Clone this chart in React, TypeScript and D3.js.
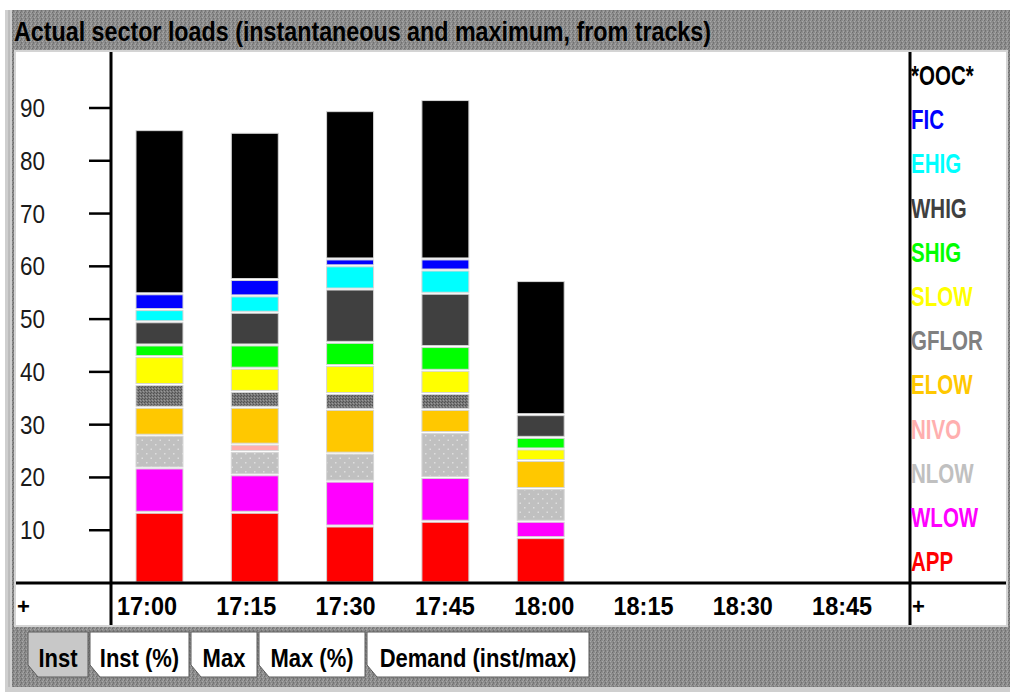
import React from "react";
import * as d3 from "d3";

const TITLE = "Actual sector loads (instantaneous and maximum, from tracks)";
const TIMES = ["17:00", "17:15", "17:30", "17:45", "18:00", "18:15", "18:30", "18:45"];
const Y_TICKS = [10, 20, 30, 40, 50, 60, 70, 80, 90];
const TABS = ["Inst", "Inst (%)", "Max", "Max (%)", "Demand (inst/max)"];

// series bottom -> top
const SERIES = ["APP", "WLOW", "NLOW", "NIVO", "ELOW", "GFLOR", "SLOW", "SHIG", "WHIG", "EHIG", "FIC", "*OOC*"];
const APP = [13.4, 13.4, 10.8, 11.7, 8.6];
const WLOW = [8.4, 7.1, 8.5, 8.3, 3.1];
const NLOW = [6.2, 4.4, 5.3, 8.5, 6.2];
const NIVO = [0, 1.4, 0, 0, 0];
const ELOW = [5.3, 7.0, 8.3, 4.4, 5.3];
const GFLOR = [4.3, 3.0, 3.0, 3.0, 0];
const SLOW = [5.3, 4.4, 5.3, 4.4, 2.2];
const SHIG = [2.2, 4.4, 4.4, 4.5, 2.2];
const WHIG = [4.4, 6.2, 10.1, 10.1, 4.3];
const EHIG = [2.3, 3.1, 4.4, 4.4, 0];
const FIC = [3.0, 3.1, 1.3, 2.1, 0];
const OOC = [31.1, 27.9, 28.1, 30.2, 25.4];
const VALUES = [APP, WLOW, NLOW, NIVO, ELOW, GFLOR, SLOW, SHIG, WHIG, EHIG, FIC, OOC];

const FILL: Record<string, string> = {
  APP: "#ff0000",
  WLOW: "#ff00ff",
  NLOW: "url(#nlowPat)",
  NIVO: "#ffafaf",
  ELOW: "#ffc800",
  GFLOR: "url(#gflorPat)",
  SLOW: "#ffff00",
  SHIG: "#00ff00",
  WHIG: "#404040",
  EHIG: "#00ffff",
  FIC: "#0000ff",
  "*OOC*": "#000000",
};
const TEXTCOL: Record<string, string> = {
  APP: "#ff0000",
  WLOW: "#ff00ff",
  NLOW: "#c0c0c0",
  NIVO: "#ffafaf",
  ELOW: "#ffc800",
  GFLOR: "#808080",
  SLOW: "#ffff00",
  SHIG: "#00ff00",
  WHIG: "#404040",
  EHIG: "#00ffff",
  FIC: "#0000ff",
  "*OOC*": "#000000",
};

const FONT = "'Liberation Sans', Arial, sans-serif";

function sx(x: number, k: number) {
  return `translate(${x} 0) scale(${k} 1) translate(${-x} 0)`;
}

export default function App() {
  const W = 1010, H = 692;
  const plotL = 111, plotR = 910, plotT = 52, axisY = 583, panelB = 625;

  const y = d3.scaleLinear().domain([0, 90]).range([axisY, 108]);
  const barStep = 95.3, barPad = 0.507;
  const xBar = d3
    .scaleBand<string>()
    .domain(TIMES)
    .range([136, 136 + barStep * (TIMES.length - barPad)])
    .paddingInner(barPad)
    .paddingOuter(0)
    .align(0);
  const xLab = d3.scaleBand<string>().domain(TIMES).range([plotL, plotL + 99.3 * TIMES.length]);

  const rows = APP.map((_, i) => {
    const r: any = { t: TIMES[i] };
    SERIES.forEach((s, k) => (r[s] = VALUES[k][i]));
    return r;
  });
  const stacked = d3.stack<any>().keys(SERIES)(rows);

  const legendTop = 75, legendStep = 44.2;
  const legendOrder = [...SERIES].reverse();

  const tabX = [28, 90, 191, 259, 367, 591];

  return (
    <svg width={W} height={H} style={{ position: "absolute", left: 0, top: 0, display: "block" }} fontFamily={FONT}>
      <defs>
        <pattern id="dither" width="4" height="4" patternUnits="userSpaceOnUse">
          <rect width="4" height="4" fill="#8c8c8c" />
          <rect x="0" y="0" width="1" height="1" fill="#6e6e6e" />
          <rect x="2" y="1" width="1" height="1" fill="#a8a8a8" />
          <rect x="1" y="2" width="1" height="1" fill="#707070" />
          <rect x="3" y="3" width="1" height="1" fill="#a4a4a4" />
          <rect x="3" y="0" width="1" height="1" fill="#9c9c9c" />
          <rect x="1" y="3" width="1" height="1" fill="#7a7a7a" />
        </pattern>
        <pattern id="gflorPat" width="3" height="3" patternUnits="userSpaceOnUse">
          <rect width="3" height="3" fill="#777" />
          <rect x="0" y="0" width="1" height="1" fill="#505050" />
          <rect x="2" y="1" width="1" height="1" fill="#9a9a9a" />
          <rect x="1" y="2" width="1" height="1" fill="#555" />
        </pattern>
        <pattern id="nlowPat" width="9" height="9" patternUnits="userSpaceOnUse">
          <rect width="9" height="9" fill="#c0c0c0" />
          <rect x="2" y="3" width="1.5" height="1.5" fill="#dedede" />
          <rect x="6.5" y="7.5" width="1.5" height="1.5" fill="#dedede" />
        </pattern>
      </defs>

      <rect width={W} height={H} fill="#ffffff" />
      <rect x={5} y={10} width={W - 5} height={H - 10} fill="#cfcfcf" />
      <line x1={9} y1={10} x2={9} y2={H} stroke="#a8a8a8" strokeWidth={1} />
      <rect x={12} y={10} width={W - 12} height={677} fill="url(#dither)" />

      {/* title */}
      <text x={14} y={41} fontSize={27} fontWeight="bold" fill="#000" textLength={697} lengthAdjust="spacingAndGlyphs">
        {TITLE}
      </text>

      {/* panel */}
      <rect x={14} y={50} width={W - 2 - 14} height={panelB - 50 + 2} fill="#d4d4d4" />
      <rect x={16} y={plotT} width={1006 - 16} height={panelB - plotT} fill="#ffffff" />

      {/* bars */}
      {stacked.map((layer) => (
        <g key={layer.key}>
          {layer.map((d, i) => {
            const h = y(d[0]) - y(d[1]);
            if (h <= 0.5) return null;
            return (
              <rect
                key={i}
                x={xBar(TIMES[i])!}
                y={y(d[1]) + 1}
                width={xBar.bandwidth()}
                height={Math.max(0, h - 2)}
                fill={FILL[layer.key]}
                stroke="#d6d6d6"
                strokeWidth={1}
              />
            );
          })}
        </g>
      ))}

      {/* axes */}
      <line x1={plotL} y1={plotT} x2={plotL} y2={panelB} stroke="#000" strokeWidth={3} />
      <line x1={plotR} y1={plotT} x2={plotR} y2={panelB} stroke="#000" strokeWidth={3} />
      <line x1={16} y1={axisY} x2={1006} y2={axisY} stroke="#000" strokeWidth={3} />

      {Y_TICKS.map((t) => (
        <g key={t}>
          <line x1={89} y1={y(t)} x2={plotL} y2={y(t)} stroke="#000" strokeWidth={2.5} />
          <text x={20} y={y(t) + 9} fontSize={25} fill="#1a1a1a" transform={sx(20, 0.9)}>
            {t}
          </text>
        </g>
      ))}

      {TIMES.map((t) => (
        <text key={t} x={xLab(t)! + 6} y={615} fontSize={26} fontWeight="bold" fill="#000" textLength={60} lengthAdjust="spacingAndGlyphs">
          {t}
        </text>
      ))}
      <text x={17} y={614} fontSize={22} fontWeight="bold" fill="#000">+</text>
      <text x={912} y={614} fontSize={22} fontWeight="bold" fill="#000">+</text>

      {/* legend */}
      {legendOrder.map((s, i) => (
        <text
          key={s}
          x={911}
          y={legendTop + i * legendStep + 10}
          fontSize={27}
          fill={TEXTCOL[s]}
          fontWeight="bold"
          transform={sx(911, 0.76)}
        >
          {s}
        </text>
      ))}

      {/* tabs */}
      {TABS.map((t, i) => {
        const x0 = tabX[i], x1 = tabX[i + 1] - 2, y0 = 632, y1 = 677;
        const pts = `${x0},${y0} ${x1},${y0} ${x1},${y1} ${x0 + 10},${y1} ${x0},${y1 - 12}`;
        const cx = (x0 + x1) / 2;
        return (
          <g key={t}>
            <polygon points={pts} fill={i === 0 ? "#c8c8c8" : "#ffffff"} stroke="#5a5a5a" strokeWidth={1} />
            <text x={cx} y={667} textAnchor="middle" fontSize={25} fontWeight="bold" fill="#000" transform={sx(cx, 0.88)}>
              {t}
            </text>
          </g>
        );
      })}
      <rect x={5} y={687} width={W - 5} height={5} fill="#cfcfcf" />
    </svg>
  );
}
